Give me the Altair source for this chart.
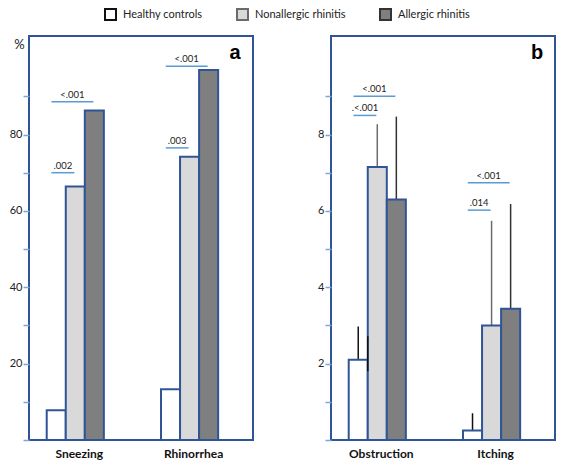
import altair as alt
import pandas as pd

# ---------------- data ----------------
groups = ["Healthy controls", "Nonallergic rhinitis", "Allergic rhinitis"]
fills = ["#ffffff", "#d9d9d9", "#7f7f7f"]
err_colors = ["#111111", "#6b6b6b", "#333333"]

cats_a = ["Sneezing", "Rhinorrhea"]
healthy_a = [7.8, 13.3]
nonallergic_a = [66.4, 74.2]
allergic_a = [86.3, 96.9]

cats_b = ["Obstruction", "Itching"]
healthy_b = [2.1, 0.25]
nonallergic_b = [7.15, 3.0]
allergic_b = [6.3, 3.44]
healthy_b_upper = [2.97, 0.7]
nonallergic_b_upper = [8.27, 5.74]
allergic_b_upper = [8.47, 6.18]

# extra short whisker drawn at the healthy/nonallergic edge of "Obstruction"
stray_cat = ["Obstruction"]
stray_low = [1.8]
stray_high = [2.72]

# significance brackets: category, from group, to group, level, p-value
sig_a_cat = ["Sneezing", "Sneezing", "Rhinorrhea", "Rhinorrhea"]
sig_a_from = [0, 0, 0, 0]
sig_a_to = [1, 2, 1, 2]
sig_a_level = [70.0, 88.6, 76.5, 97.9]
sig_a_text = [".002", "<.001", ".003", "<.001"]

sig_b_cat = ["Obstruction", "Obstruction", "Itching", "Itching"]
sig_b_from = [0, 0, 0, 0]
sig_b_to = [1, 2, 1, 2]
sig_b_level = [8.5, 9.0, 6.02, 6.74]
sig_b_text = [".<.001", "<.001", ".014", "<.001"]

# ---------------- style ----------------
W, H = 224, 404
STEP = 6
BLUE = "#2f5597"
LIGHTBLUE = "#5b9bd5"
FONT = "Lato"


def bars_df(cats, series):
    rows = []
    for ci, c in enumerate(cats):
        for gi, g in enumerate(groups):
            rows.append({"cat": c, "ci": ci, "group": g, "gi": gi, "value": series[gi][ci]})
    return pd.DataFrame(rows)


def panel(cats, series, uppers, sig, ymax, tick_step, letter, ytitle, stray=None):
    xs = alt.Scale(domain=[-0.93, 10.83], nice=False, zero=False)
    ys = alt.Scale(domain=[0, ymax], nice=False, zero=True)
    tick_vals = [round(i * tick_step, 4) for i in range(10)]
    yaxis = alt.Axis(
        values=tick_vals,
        labelExpr=f"(round(datum.value / {tick_step}) % 2 == 0 && datum.value > 0) ? datum.label : ''",
        tickColor="#7aa6dc", tickSize=6, tickWidth=1.5, domain=False, grid=False,
        labelFont=FONT, labelFontSize=11, labelColor="#222", labelPadding=1,
        title=ytitle, titleAngle=0, titleX=-10, titleY=8, titleFont=FONT,
        titleFontSize=13, titleFontWeight="normal", titleAlign="center",
        titleBaseline="middle", titleColor="#222",
    )
    df = bars_df(cats, series)
    base = alt.Chart(df).transform_calculate(
        x0=f"datum.ci * {STEP} + datum.gi", x1=f"datum.ci * {STEP} + datum.gi + 1"
    )
    bars = base.mark_bar(stroke=BLUE, strokeWidth=2).encode(
        x=alt.X("x0:Q", scale=xs, axis=None),
        x2="x1:Q",
        y=alt.Y("value:Q", scale=ys, axis=yaxis),
        y2=alt.Y2Datum(0),
        fill=alt.Fill(
            "group:N",
            scale=alt.Scale(domain=groups, range=fills),
            legend=alt.Legend(
                orient="none", legendX=75, legendY=-28, direction="horizontal",
                title=None, symbolType="square", symbolSize=121,
                symbolStrokeColor=BLUE, symbolStrokeWidth=2, symbolOpacity=1,
                labelFont=FONT, labelFontSize=11, labelColor="#222",
                labelOffset=6, columnPadding=30,
            ),
        ),
    )
    layers = [bars]
    if uppers is not None:
        edf = bars_df(cats, series)
        edf["upper"] = [uppers[gi][ci] for ci in range(len(cats)) for gi in range(3)]
        err = alt.Chart(edf).transform_calculate(
            xc=f"datum.ci * {STEP} + datum.gi + 0.5"
        ).mark_rule(strokeWidth=1.5).encode(
            x=alt.X("xc:Q", scale=xs, axis=None),
            y=alt.Y("value:Q", scale=ys, axis=yaxis),
            y2="upper:Q",
            color=alt.Color("group:N", scale=alt.Scale(domain=groups, range=err_colors), legend=None),
        )
        layers.insert(0, err)
    if stray is not None:
        tcat, tlow, thigh = stray
        tdf = pd.DataFrame({"cat": tcat, "low": tlow, "high": thigh})
        tdf["ci"] = [cats.index(c) for c in tcat]
        st = alt.Chart(tdf).transform_calculate(
            xc=f"datum.ci * {STEP} + 1"
        ).mark_rule(color="#111", strokeWidth=1.5).encode(
            x=alt.X("xc:Q", scale=xs, axis=None),
            y=alt.Y("low:Q", scale=ys, axis=yaxis),
            y2="high:Q",
        )
        layers.append(st)
    scat, sfrom, sto, slev, stext = sig
    sdf = pd.DataFrame({"cat": scat, "f": sfrom, "t": sto, "level": slev, "p": stext})
    sdf["ci"] = [cats.index(c) for c in scat]
    sbase = alt.Chart(sdf).transform_calculate(
        xa=f"datum.ci * {STEP} + datum.f + 0.25",
        xb=f"datum.ci * {STEP} + datum.t + 0.45",
    ).transform_calculate(xm="(datum.xa + datum.xb) / 2")
    srule = sbase.mark_rule(color=LIGHTBLUE, strokeWidth=1.5).encode(
        x=alt.X("xa:Q", scale=xs, axis=None), x2="xb:Q",
        y=alt.Y("level:Q", scale=ys, axis=yaxis),
    )
    stxt = sbase.mark_text(font=FONT, fontSize=9.5, color="#222", baseline="bottom", dy=-2).encode(
        x=alt.X("xm:Q", scale=xs, axis=None),
        y=alt.Y("level:Q", scale=ys, axis=yaxis),
        text="p:N",
    )
    cdf = pd.DataFrame({"cat": cats, "ci": list(range(len(cats)))})
    ctxt = alt.Chart(cdf).transform_calculate(
        xc=f"datum.ci * {STEP} + 1.5"
    ).mark_text(font=FONT, fontSize=12, fontWeight="bold", color="#111", dx=4, baseline="middle").encode(
        x=alt.X("xc:Q", scale=xs, axis=None),
        y=alt.value(H + 14),
        text="cat:N",
    )
    ltxt = alt.Chart(pd.DataFrame({"letter": [letter]})).mark_text(
        font="Liberation Sans", fontSize=20, fontWeight="bold", color="#000", baseline="middle"
    ).encode(x=alt.value(W - 18), y=alt.value(17), text="letter:N")
    layers += [srule, stxt, ctxt, ltxt]
    return alt.layer(*layers).properties(width=W, height=H)


panel_a = panel(
    cats_a, [healthy_a, nonallergic_a, allergic_a], None,
    (sig_a_cat, sig_a_from, sig_a_to, sig_a_level, sig_a_text),
    105.8, 10, "a", "%",
)
panel_b = panel(
    cats_b, [healthy_b, nonallergic_b, allergic_b],
    [healthy_b_upper, nonallergic_b_upper, allergic_b_upper],
    (sig_b_cat, sig_b_from, sig_b_to, sig_b_level, sig_b_text),
    10.58, 1, "b", "",
    stray=(stray_cat, stray_low, stray_high),
)

chart = alt.hconcat(panel_a, panel_b, spacing=62).properties(
    padding={"left": 0, "top": 0, "right": 0, "bottom": 0}
).configure_view(stroke=BLUE, strokeWidth=2)

chart.save("out.html", embed_options={"renderer": "svg", "actions": False})
